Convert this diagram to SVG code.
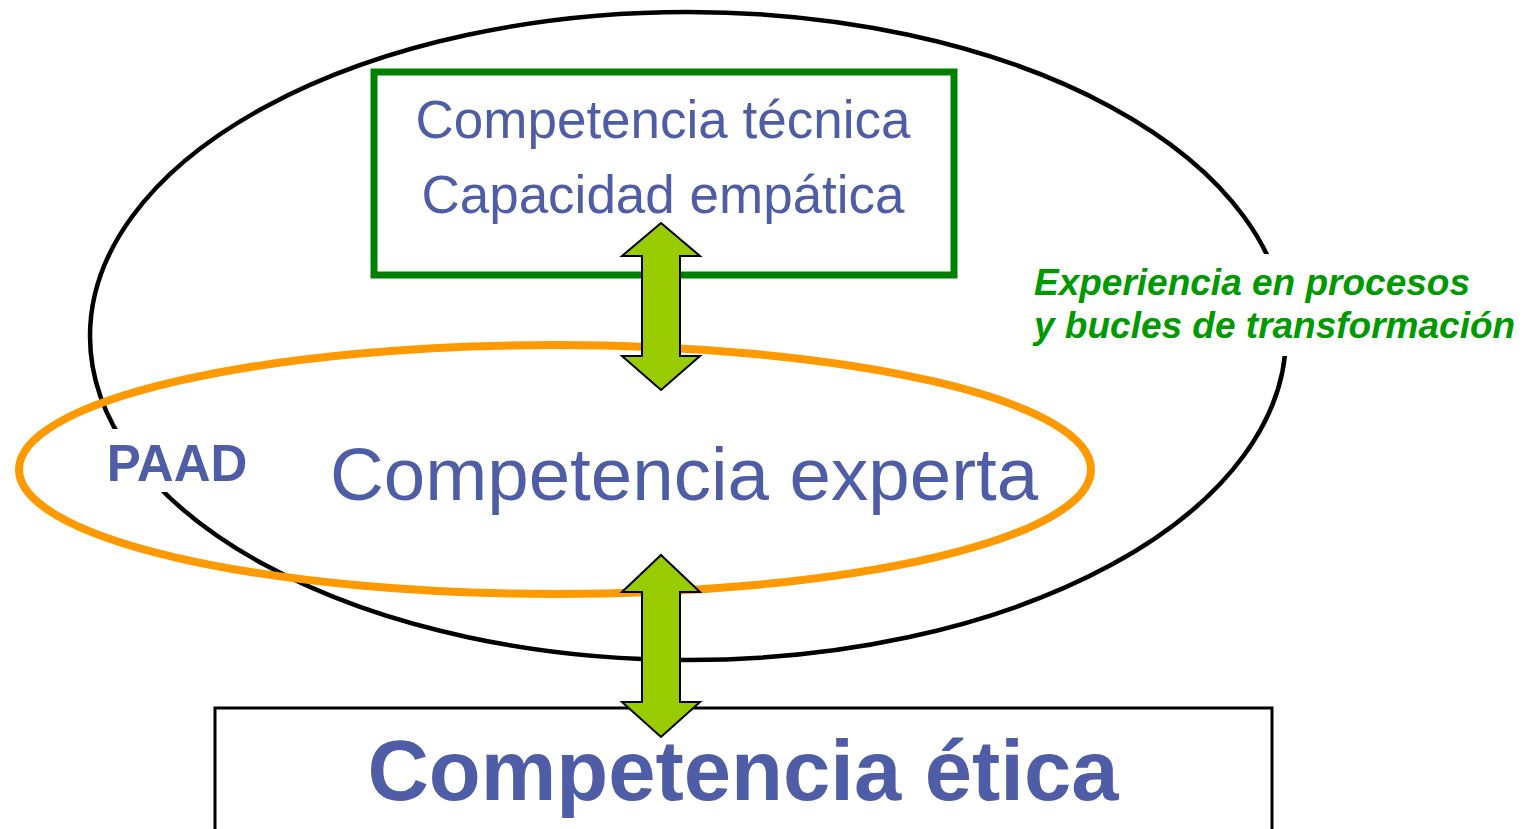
<svg xmlns="http://www.w3.org/2000/svg" width="1526" height="829" viewBox="0 0 1526 829">
<style>
.blue{fill:#4F5DA6;font-family:"Liberation Sans",Arial,sans-serif;}
.arrow{fill:#99CC00;stroke:#000;stroke-width:2;stroke-linejoin:miter;}
.green{fill:#009900;font-family:"Liberation Sans",Arial,sans-serif;font-weight:bold;font-style:italic;font-size:37px;}
</style>
<rect width="1526" height="829" fill="#fff"/>
<g id="loop">
<ellipse cx="688" cy="336" rx="598" ry="324" fill="none" stroke="#000" stroke-width="4.5"/>
</g>
<g id="label-experiencia">
<rect x="1030" y="254" width="494" height="102" fill="#fff"/>
<text class="green" x="1034" y="295">Experiencia en procesos</text>
<text class="green" x="1034" y="338">y bucles de transformación</text>
</g>
<g id="paad">
<rect x="100" y="429" width="158" height="63" fill="#fff"/>
<text class="blue" x="177" y="481" font-size="51" font-weight="bold" text-anchor="middle">PAAD</text>
</g>
<g id="experta">
<ellipse cx="555" cy="469.5" rx="536" ry="124.5" fill="none" stroke="#FF9900" stroke-width="8"/>
<text class="blue" x="684" y="500" font-size="74.5" text-anchor="middle">Competencia experta</text>
</g>
<g id="tecnica">
<rect x="374" y="72" width="580" height="203" fill="none" stroke="#008000" stroke-width="7"/>
<text class="blue" x="663" y="138" font-size="53" text-anchor="middle">Competencia técnica</text>
<text class="blue" x="663" y="213" font-size="53" text-anchor="middle">Capacidad empática</text>
</g>
<g id="etica">
<rect x="215" y="708" width="1057" height="140" fill="none" stroke="#000" stroke-width="3"/>
<text class="blue" x="743" y="800" font-size="85" font-weight="bold" text-anchor="middle">Competencia ética</text>
</g>
<g id="connectors">
<polygon class="arrow" points="661,223 700,256 680,256 680,356 700,356 661,390 622,356 642,356 642,256 622,256"/>
<polygon class="arrow" points="661,555 700,592 680,592 680,702 700,702 661,737 622,702 642,702 642,592 622,592"/>
</g>
</svg>
